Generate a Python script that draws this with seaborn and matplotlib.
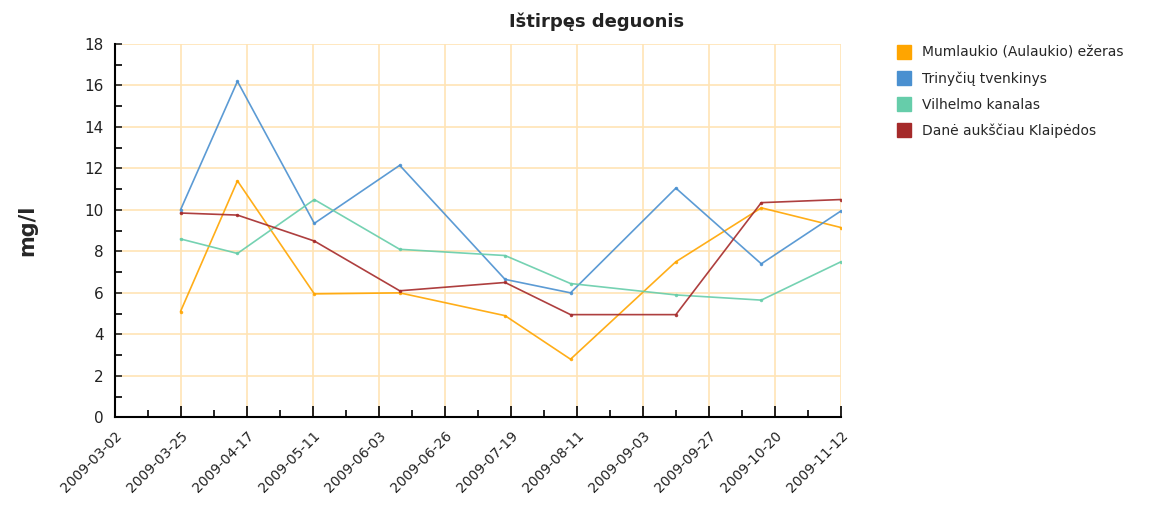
import matplotlib
matplotlib.use("Agg")
import matplotlib.pyplot as plt
import matplotlib.dates as mdates
import numpy as np
import pandas as pd
import seaborn as sns

# measurement dates and values (mg/l) per station
dates = ["2009-03-25", "2009-04-14", "2009-05-11", "2009-06-10", "2009-07-17",
         "2009-08-09", "2009-09-15", "2009-10-15", "2009-11-12"]
mumlaukio = [5.1, 11.4, 5.95, 6.0, 4.9, 2.8, 7.5, 10.1, 9.15]
trinyciu = [10.0, 16.2, 9.35, 12.15, 6.65, 6.0, 11.05, 7.4, 9.95]
vilhelmo = [8.6, 7.9, 10.5, 8.1, 7.8, 6.45, 5.9, 5.65, 7.5]
dane = [9.85, 9.75, 8.5, 6.1, 6.5, 4.95, 4.95, 10.35, 10.5]

stations = ["Mumlaukio (Aulaukio) ežeras", "Trinyčių tvenkinys",
            "Vilhelmo kanalas", "Danė aukščiau Klaipėdos"]
colors = ["#FFA500", "#4A90D0", "#66CDAA", "#A52A2A"]
tick_labels = ["2009-03-02", "2009-03-25", "2009-04-17", "2009-05-11",
               "2009-06-03", "2009-06-26", "2009-07-19", "2009-08-11",
               "2009-09-03", "2009-09-27", "2009-10-20", "2009-11-12"]

# long-form table for seaborn
rows = []
for name, vals in zip(stations, [mumlaukio, trinyciu, vilhelmo, dane]):
    for d, v in zip(dates, vals):
        rows.append({"date": pd.Timestamp(d), "value": v, "station": name})
df = pd.DataFrame(rows)

sns.set_style("white")
plt.rcParams["font.family"] = ["DejaVu Sans"]

fig = plt.figure(figsize=(11.56, 5.11), dpi=100)
ax = fig.add_axes([0.0995, 0.1834, 0.628, 0.7305])

sns.lineplot(data=df, x="date", y="value", hue="station",
             palette=dict(zip(stations, colors)), hue_order=stations,
             marker="o", markersize=2.5, markeredgewidth=0, linewidth=1.2,
             alpha=0.9, ax=ax, legend=False, estimator=None)

# axes ranges and ticks
x0 = mdates.date2num(pd.Timestamp(tick_labels[0]))
x1 = mdates.date2num(pd.Timestamp(tick_labels[-1]))
major = np.linspace(x0, x1, len(tick_labels))
ax.set_xlim(x0, x1)
ax.set_ylim(0, 18)
ax.set_xticks(major)
ax.set_xticklabels(tick_labels, rotation=45, ha="right",
                   rotation_mode="anchor", fontsize=10, color="#222222")
ax.set_xticks((major[:-1] + major[1:]) / 2, minor=True)
ax.set_yticks(np.arange(0, 19, 2))
ax.set_yticks(np.arange(1, 18, 2), minor=True)
ax.tick_params(which="both", bottom=True, left=True, direction="in",
               color="black", width=1.2)
ax.tick_params(axis="y", labelsize=11, colors="#222222")
ax.tick_params(axis="x", which="major", length=8, pad=8)
ax.tick_params(axis="x", which="minor", length=5)
ax.tick_params(axis="y", which="both", length=5, pad=8)

ax.grid(True, which="major", color="#FFE4B5", linewidth=1.2)
ax.set_axisbelow(True)
for s in ["top", "right"]:
    ax.spines[s].set_visible(False)
for s in ["left", "bottom"]:
    ax.spines[s].set_color("black")
    ax.spines[s].set_linewidth(1.5)

ax.set_xlabel("")
ax.set_ylabel("mg/l", fontsize=15, fontweight="bold", labelpad=34)
fig.text(0.516, 0.958, "Ištirpęs deguonis", ha="center", va="center",
         fontsize=13, fontweight="bold", color="#222222")

# legend with square patches
handles = [plt.Line2D([], [], marker="s", linestyle="", markersize=10,
                      color=c) for c in colors]
fig.legend(handles, stations, loc="upper left", bbox_to_anchor=(0.765, 0.935),
           frameon=False, fontsize=10, handletextpad=0.8, labelspacing=0.85,
           handlelength=1.0)

fig.savefig("out.png", dpi=100)
